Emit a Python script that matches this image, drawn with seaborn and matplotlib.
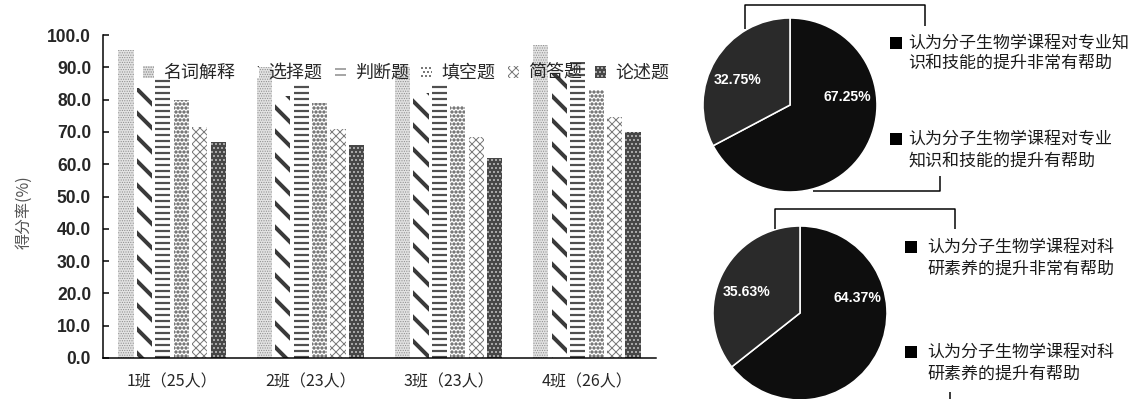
import numpy as np
import pandas as pd
import matplotlib
matplotlib.use("Agg")
import matplotlib.pyplot as plt
import matplotlib.patches as mpatches
import seaborn as sns

# ---------------- data ----------------
classes = ["1班（25人）", "2班（23人）", "3班（23人）", "4班（26人）"]
question_types = ["名词解释", "选择题", "判断题", "填空题", "简答题", "论述题"]
mingci_jieshi = [95.3, 90.0, 90.0, 97.0]
xuanze_ti = [83.5, 81.0, 82.0, 88.0]
panduan_ti = [87.0, 84.5, 84.5, 91.5]
tiankong_ti = [80.0, 79.0, 78.0, 83.0]
jianda_ti = [71.5, 71.0, 68.5, 74.5]
lunshu_ti = [67.0, 66.0, 62.0, 70.0]
y_ticks = [0, 10, 20, 30, 40, 50, 60, 70, 80, 90, 100]
y_label = "得分率(%)"

pie1_values = [67.25, 32.75]
pie1_legend = [["认为分子生物学课程对专业知", "识和技能的提升非常有帮助"],
               ["认为分子生物学课程对专业", "知识和技能的提升有帮助"]]
pie2_values = [64.37, 35.63]
pie2_legend = [["认为分子生物学课程对科", "研素养的提升非常有帮助"],
               ["认为分子生物学课程对科", "研素养的提升有帮助"]]

# ---------------- setup ----------------
W, H, DPI = 1137, 399, 72
sns.set_theme(style="white")
plt.rcParams["font.family"] = ["Noto Sans CJK SC", "DejaVu Sans"]
plt.rcParams["hatch.linewidth"] = 1.0

fig = plt.figure(figsize=(W / DPI, H / DPI), dpi=DPI)
fig.patch.set_facecolor("white")

series = [mingci_jieshi, xuanze_ti, panduan_ti, tiankong_ti, jianda_ti, lunshu_ti]
df = pd.DataFrame({
    "班级": [c for s in series for c in classes],
    "题型": [q for q, s in zip(question_types, series) for _ in s],
    "得分率": [v for s in series for v in s],
})

styles = [
    dict(fc="#e2e2e2", ec="#8c8c8c", hatch=".....", hlw=0.7),
    dict(fc="white", ec="#3a3a3a", hatch="\\", hlw=4.0),
    dict(fc="white", ec="#505050", hatch="--", hlw=2.2),
    dict(fc="white", ec="#3c3c3c", hatch="...", hlw=2.2),
    dict(fc="white", ec="#7a7a7a", hatch="xxx", hlw=1.0),
    dict(fc="#474747", ec="#d0d0d0", hatch="...", hlw=1.0),
]

def apply_style(p, st):
    p.set_facecolor(st["fc"])
    p.set_edgecolor(st["ec"])
    p.set_hatch(st["hatch"])
    p.set_linewidth(0)
    if hasattr(p, "set_hatch_linewidth"):
        p.set_hatch_linewidth(st["hlw"])

ax = fig.add_axes([103 / W, 1 - 358 / H, 553 / W, 323 / H])
sns.barplot(data=df, x="班级", y="得分率", hue="题型", order=classes,
            hue_order=question_types, palette=["white"] * 6, width=0.8,
            gap=0.18, saturation=1, legend=False, ax=ax)
for cont, st in zip(ax.containers, styles):
    for bar in cont:
        apply_style(bar, st)

ax.set_ylim(0, 100)
ax.set_xlim(-0.5, len(classes) - 0.5)
ax.set_yticks(y_ticks)
ax.set_yticklabels([f"{t:.1f}" for t in y_ticks], fontsize=17.5,
                   fontweight="bold", family="Liberation Sans")
ax.set_xticks(range(len(classes)))
ax.set_xticklabels(classes, fontsize=16)
ax.set_xticks(np.arange(-0.5, len(classes), 1.0), minor=True)
ax.tick_params(axis="x", which="major", length=0, pad=15)
ax.tick_params(axis="x", which="minor", direction="in", length=6, width=1.5, color="black")
ax.tick_params(axis="y", direction="in", length=6, width=1.5, color="black", pad=12, left=True)
for s in ["top", "right"]:
    ax.spines[s].set_visible(False)
for s in ["left", "bottom"]:
    ax.spines[s].set_color("black")
    ax.spines[s].set_linewidth(1.5)
ax.set_xlabel("")
ax.set_ylabel(y_label, fontsize=16, color="#555555")
ax.yaxis.set_label_coords(-0.128, 0.453)
ax.grid(False)

handles = []
for st in styles:
    h = mpatches.Patch()
    apply_style(h, st)
    handles.append(h)
fig.legend(handles, question_types, loc="center left",
           bbox_to_anchor=(143 / W, 1 - 73 / H), ncol=6, frameon=False,
           fontsize=18, handlelength=0.62, handleheight=0.65,
           handletextpad=0.5, columnspacing=0.7, borderpad=0,
           borderaxespad=0)

# ---------------- pies ----------------
pie_colors = ["#0e0e0e", "#2a2a2a"]

def draw_pie(cx, cy, r, values, label_pos):
    pax = fig.add_axes([(cx - r) / W, 1 - (cy + r) / H, 2 * r / W, 2 * r / H])
    pax.pie(values, colors=pie_colors, startangle=90, counterclock=False,
            wedgeprops=dict(edgecolor="white", linewidth=1.6))
    pax.set_xlim(-1, 1)
    pax.set_ylim(-1, 1)
    pax.set_aspect("equal")
    for v, (x, y) in zip(values, label_pos):
        pax.text(x, y, f"{v:.2f}%", color="white", fontsize=14,
                 fontweight="bold", family="Liberation Sans",
                 ha="center", va="center")
    pax.axis("off")
    return pax

draw_pie(790, 105, 87, pie1_values, [(0.655, 0.09), (-0.60, 0.29)])
draw_pie(800, 313, 87, pie2_values, [(0.655, 0.17), (-0.61, 0.24)])

ov = fig.add_axes([0, 0, 1, 1], facecolor="none")
ov.set_xlim(0, W)
ov.set_ylim(H, 0)
ov.axis("off")
lk = dict(color="black", linewidth=1.5, solid_capstyle="butt")
ov.plot([745, 745, 925, 925], [29, 5, 5, 26], **lk)
ov.plot([813, 940, 940], [191, 191, 176], **lk)
ov.plot([775, 775, 955, 955], [229, 209, 209, 229], **lk)
ov.plot([950, 950], [392, 400], **lk)

def pie_legend(sq_x, txt_x, entries, line_ys):
    for lines, ys in zip(entries, line_ys):
        ov.add_patch(mpatches.Rectangle((sq_x, ys[0] - 6), 12, 12,
                                        facecolor="black", edgecolor="none"))
        for ln, y in zip(lines, ys):
            ov.text(txt_x, y, ln, fontsize=17, color="#1a1a1a",
                    ha="left", va="center")

pie_legend(890, 908, pie1_legend, [(43, 63), (139, 161)])
pie_legend(905, 927, pie2_legend, [(247, 269), (352, 374)])

fig.savefig("out.png", dpi=DPI, facecolor="white")
